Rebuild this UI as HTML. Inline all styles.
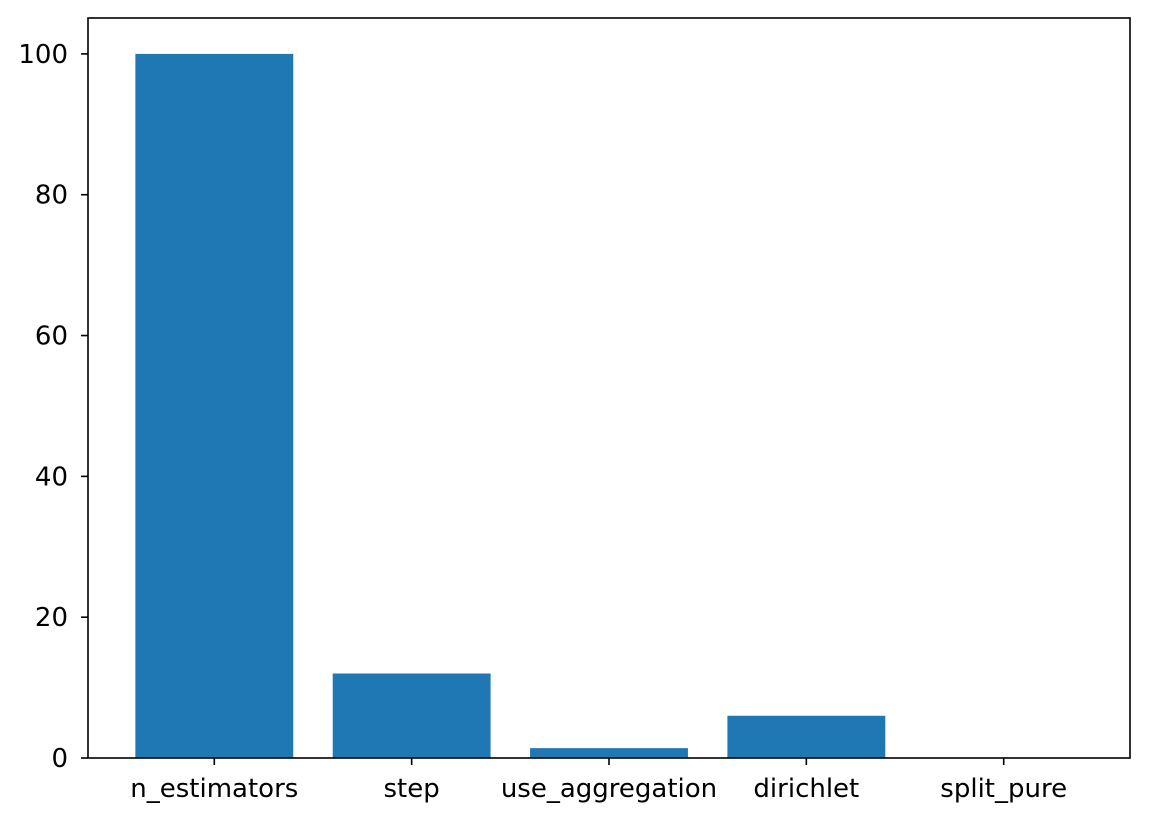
<!DOCTYPE html>
<html><head><meta charset="utf-8"><style>
html,body{margin:0;padding:0;background:#fff;}
svg text{font-family:"DejaVu Sans","Liberation Sans",sans-serif;font-size:26px;fill:#000;}
</style></head><body>
<svg id="chart" width="1149" height="822" xmlns="http://www.w3.org/2000/svg"></svg>
<script>
const categories = ["n_estimators","step","use_aggregation","dirichlet","split_pure"];
const values = [100, 12, 1.4, 6, 0];
const yTicks = [0, 20, 40, 60, 80, 100];

const L=88,R=1130,T=18,B=758;
const xMin=-0.64,xMax=4.64,yMin=0,yMax=105.1;
const xs=v=>L+(v-xMin)/(xMax-xMin)*(R-L);
const ys=v=>B-(v-yMin)/(yMax-yMin)*(B-T);
const svg=document.getElementById('chart');
const NS='http://www.w3.org/2000/svg';
function mk(tag,attrs){const e=document.createElementNS(NS,tag);for(const k in attrs)e.setAttribute(k,attrs[k]);svg.appendChild(e);return e;}
const bw=(xs(0.8)-xs(0));
categories.forEach((c,i)=>{
  const r=mk('rect',{x:xs(i)-bw/2,y:ys(values[i]),width:bw,height:ys(0)-ys(values[i]),fill:'#1f77b4'});
  
  
  const t=mk('line',{x1:xs(i),x2:xs(i),y1:B,y2:B+7,stroke:'#000','stroke-width':1.6});
  
  
  const l=mk('text',{x:xs(i),y:B+39,'text-anchor':'middle'});
  l.textContent=c;
  
  
});
yTicks.forEach(v=>{
  const t=mk('line',{x1:L-7,x2:L,y1:ys(v),y2:ys(v),stroke:'#000','stroke-width':1.6});
  
  
  const l=mk('text',{x:L-20,y:ys(v)+9,'text-anchor':'end'});
  l.textContent=v;
  
  
});
const f=mk('rect',{x:L,y:T,width:R-L,height:B-T,fill:'none',stroke:'#000','stroke-width':1.6});


</script>
</body></html>
